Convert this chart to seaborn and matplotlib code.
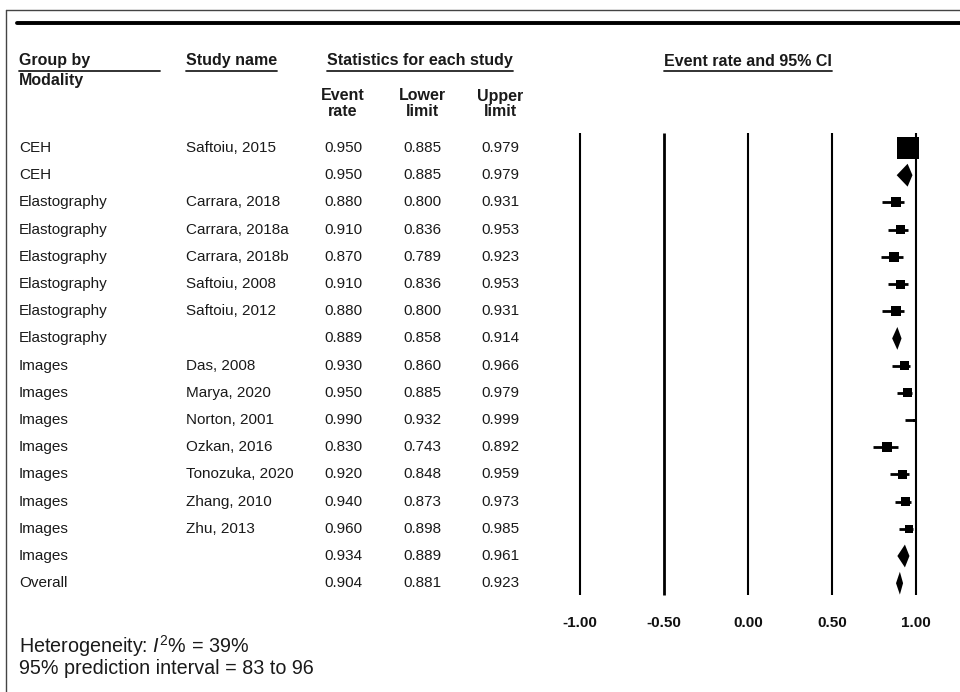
import numpy as np
import pandas as pd
import matplotlib
matplotlib.use("Agg")
import matplotlib.pyplot as plt
import matplotlib.transforms as mtransforms
from matplotlib.lines import Line2D
import seaborn as sns

# ---------------- data ----------------
groups = ["CEH", "CEH", "Elastography", "Elastography", "Elastography", "Elastography",
          "Elastography", "Elastography", "Images", "Images", "Images", "Images",
          "Images", "Images", "Images", "Images", "Overall"]
studies = ["Saftoiu, 2015", "", "Carrara, 2018", "Carrara, 2018a", "Carrara, 2018b",
           "Saftoiu, 2008", "Saftoiu, 2012", "", "Das, 2008", "Marya, 2020",
           "Norton, 2001", "Ozkan, 2016", "Tonozuka, 2020", "Zhang, 2010", "Zhu, 2013",
           "", ""]
event_rate = [0.950, 0.950, 0.880, 0.910, 0.870, 0.910, 0.880, 0.889, 0.930, 0.950,
              0.990, 0.830, 0.920, 0.940, 0.960, 0.934, 0.904]
lower_limit = [0.885, 0.885, 0.800, 0.836, 0.789, 0.836, 0.800, 0.858, 0.860, 0.885,
               0.932, 0.743, 0.848, 0.873, 0.898, 0.889, 0.881]
upper_limit = [0.979, 0.979, 0.931, 0.953, 0.923, 0.953, 0.931, 0.914, 0.966, 0.979,
               0.999, 0.892, 0.959, 0.973, 0.985, 0.961, 0.923]
is_summary = [False, True, False, False, False, False, False, True, False, False,
              False, False, False, False, False, True, True]
# relative study weight shown as square side (pixels)
weight_px = [22, 0, 10, 9, 10, 9, 10, 0, 9, 9, 3, 10, 9, 9, 8, 0, 0]
tick_values = [-1.0, -0.5, 0.0, 0.5, 1.0]
tick_labels = ["-1.00", "-0.50", "0.00", "0.50", "1.00"]

df = pd.DataFrame({"group": groups, "study": studies, "er": event_rate,
                   "lo": lower_limit, "up": upper_limit, "summary": is_summary,
                   "w": weight_px})
df["row"] = np.arange(len(df))

# ---------------- style ----------------
sns.set_theme(style="white")
plt.rcParams["font.family"] = ["Liberation Sans", "DejaVu Sans"]
plt.rcParams["mathtext.fontset"] = "custom"
plt.rcParams["mathtext.rm"] = "Liberation Sans"
plt.rcParams["mathtext.it"] = "Liberation Sans:italic"

W, H = 960, 692
fig = plt.figure(figsize=(W / 100, H / 100), dpi=100)
fig.patch.set_facecolor("white")

def fx(px):
    return px / W

def fy(py):
    return 1 - py / H

# forest axes
ax_left, ax_right, ax_top, ax_bot = 540, 960, 120, 605
ax = fig.add_axes([fx(ax_left), fy(ax_bot), (ax_right - ax_left) / W, (ax_bot - ax_top) / H])
ax.set_facecolor("none")
px_per_unit = (916 - 580) / 2.0
x0_px = 748
ax.set_xlim((ax_left - x0_px) / px_per_unit, (ax_right - x0_px) / px_per_unit)
row0_px, row_step = 148, 27.2
ax.set_ylim((ax_bot - row0_px) / row_step, (ax_top - row0_px) / row_step)
for s in ax.spines.values():
    s.set_visible(False)
ax.set_yticks([])
ax.set_xticks(tick_values)
ax.set_xticklabels(tick_labels, fontsize=11, fontweight="bold", color="#111111")
ax.tick_params(axis="x", length=0, pad=8)
ax.grid(False)

# reference lines
vtop = (133 - row0_px) / row_step
vbot = (595 - row0_px) / row_step
for v in tick_values:
    ax.vlines(v, vtop, vbot, color="black", lw=2.0 if v == -0.5 else 1.5, zorder=1)

# confidence intervals and squares
st = df[~df["summary"]]
ax.hlines(st["row"], st["lo"], st["up"], color="black", lw=2.0, zorder=2)
sns.scatterplot(data=st, x="er", y="row", marker="s", s=(st["w"] * 0.72) ** 2,
                color="black", linewidth=0, ax=ax, legend=False, zorder=3)
ax.set_xlabel("")
ax.set_ylabel("")

# summary diamonds
sm = df[df["summary"]]
hh = 0.42
for _, r in sm.iterrows():
    ax.fill([r["lo"], r["er"], r["up"], r["er"]],
            [r["row"], r["row"] - hh, r["row"], r["row"] + hh],
            color="black", lw=0, zorder=3)

# ---------------- table text ----------------
trans = mtransforms.blended_transform_factory(fig.transFigure, ax.transData)
txt_color = "#1a1a1a"
fs = 11
for _, r in df.iterrows():
    y = r["row"]
    fig.text(fx(19), y, r["group"], transform=trans, ha="left", va="center",
             fontsize=fs, color=txt_color)
    if r["study"]:
        fig.text(fx(186), y, r["study"], transform=trans, ha="left", va="center",
                 fontsize=fs, color=txt_color)
    fig.text(fx(343), y, f"{r['er']:.3f}", transform=trans, ha="center", va="center",
             fontsize=fs, color=txt_color)
    fig.text(fx(422), y, f"{r['lo']:.3f}", transform=trans, ha="center", va="center",
             fontsize=fs, color=txt_color)
    fig.text(fx(500), y, f"{r['up']:.3f}", transform=trans, ha="center", va="center",
             fontsize=fs, color=txt_color)

# ---------------- headers ----------------
hfs = 11.5
hy = 61
h_group = fig.text(fx(19), fy(hy), "Group by", ha="left", va="center",
                   fontsize=hfs, fontweight="bold", color=txt_color)
fig.text(fx(19), fy(80), "Modality", ha="left", va="center",
         fontsize=hfs, fontweight="bold", color=txt_color)
h_study = fig.text(fx(186), fy(hy), "Study name", ha="left", va="center",
                   fontsize=hfs, fontweight="bold", color=txt_color)
h_stats = fig.text(fx(420), fy(hy), "Statistics for each study", ha="center", va="center",
                   fontsize=hfs, fontweight="bold", color=txt_color)
h_ci = fig.text(fx(748), fy(hy), "Event rate and 95% CI", ha="center", va="center",
                fontsize=hfs, fontweight="bold", color=txt_color)
for xc, l1, l2 in [(343, "Event", "rate"), (422, "Lower", "limit"), (500, "Upper", "limit")]:
    fig.text(fx(xc), fy(96), l1, ha="center", va="center", fontsize=hfs,
             fontweight="bold", color=txt_color)
    fig.text(fx(xc), fy(112), l2, ha="center", va="center", fontsize=hfs,
             fontweight="bold", color=txt_color)

fig.canvas.draw()
renderer = fig.canvas.get_renderer()
def underline(t, x_end=None):
    bb = t.get_window_extent(renderer)
    x1 = bb.x0
    x2 = bb.x1 if x_end is None else x_end
    fig.add_artist(Line2D([x1 / W, x2 / W], [fy(71), fy(71)], transform=fig.transFigure,
                          color="#222222", lw=1.3))
underline(h_group, x_end=160)
underline(h_study)
underline(h_stats)
underline(h_ci)

# frame and thick rule
fig.add_artist(Line2D([fx(6), fx(960)], [fy(10), fy(10)], transform=fig.transFigure,
                      color="#444444", lw=1.0))
fig.add_artist(Line2D([fx(6), fx(6)], [fy(10), fy(692)], transform=fig.transFigure,
                      color="#444444", lw=1.0))
fig.add_artist(Line2D([fx(17), fx(960)], [fy(23), fy(23)], transform=fig.transFigure,
                      color="black", lw=2.8))

# ---------------- footer ----------------
fig.text(fx(19), fy(646), r"Heterogeneity: $\mathit{I}^{2}$% = 39%", ha="left", va="center",
         fontsize=14.2, color=txt_color)
fig.text(fx(19), fy(668), "95% prediction interval = 83 to 96", ha="left", va="center",
         fontsize=14.2, color=txt_color)

fig.savefig("out.png", dpi=100, facecolor="white")
